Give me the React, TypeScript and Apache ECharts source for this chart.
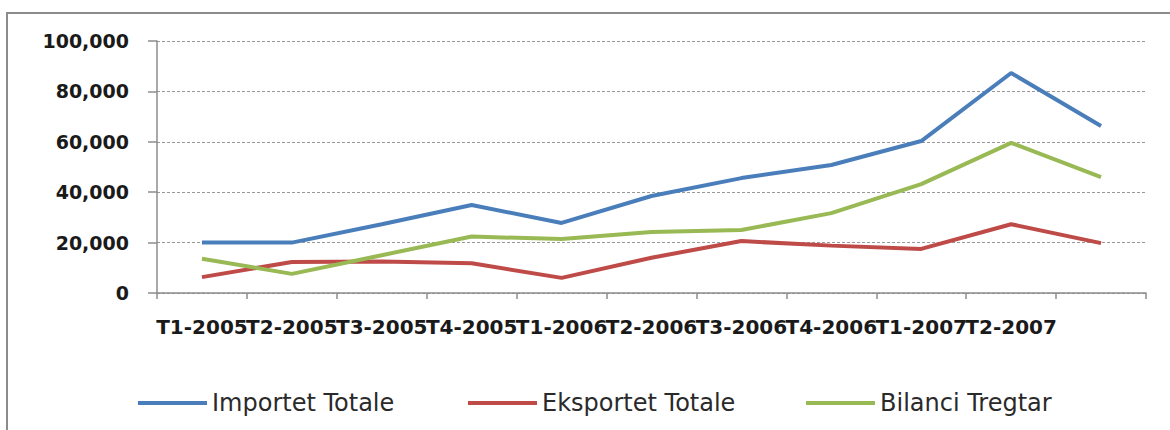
import React, { useEffect, useRef } from "react";
import * as echarts from "echarts";

const categories = [
  "T1-2005", "T2-2005", "T3-2005", "T4-2005", "T1-2006", "T2-2006",
  "T3-2006", "T4-2006", "T1-2007", "T2-2007", "",
];
const importet = [20000, 20000, 27300, 34900, 27800, 38500, 45600, 50800, 60300, 87300, 66300];
const eksportet = [6300, 12300, 12500, 11800, 6000, 14000, 20600, 18800, 17500, 27300, 19800];
const bilanci = [13600, 7600, 15000, 22400, 21400, 24200, 25000, 31700, 43200, 59600, 46000];
const seriesNames = ["Importet Totale", "Eksportet Totale", "Bilanci Tregtar"];
const colors = ["#4a7ebb", "#be4b48", "#98b954"];
const yTicks = { min: 0, max: 100000, interval: 20000 };

export default function App() {
  const ref = useRef<HTMLDivElement>(null);
  useEffect(() => {
    if (!ref.current) return;
    const chart = echarts.init(ref.current, undefined, { renderer: "svg" });
    const values = [importet, eksportet, bilanci];
    const legendLeft = [133, 463, 801];
    chart.setOption({
      animation: false,
      backgroundColor: "#ffffff",
      grid: { left: 157, right: 24, top: 41, bottom: 137, containLabel: false },
      graphic: [
        {
          type: "rect",
          shape: { x: 7, y: 13, width: 1300, height: 600 },
          style: { fill: "none", stroke: "#8c8c8c", lineWidth: 2 },
          silent: true,
        },
      ],
      legend: seriesNames.map((n, i) => ({
        data: [n],
        left: legendLeft[i],
        top: 385,
        icon: "rect",
        itemWidth: 69,
        itemHeight: 4,
        itemGap: 0,
        textStyle: {
          fontFamily: "DejaVu Sans",
          fontSize: 24,
          color: "#2a2a2a",
          lineHeight: 26,
          padding: [0, 0, 0, 0],
        },
      })),
      xAxis: {
        type: "category",
        data: categories,
        boundaryGap: true,
        axisLine: { lineStyle: { color: "#8c8c8c", width: 1.5 } },
        axisTick: { show: true, length: 6, interval: 0, lineStyle: { color: "#8c8c8c", width: 1.5 } },
        axisLabel: {
          interval: 0,
          margin: 24,
          fontFamily: "DejaVu Sans",
          fontWeight: "bold",
          fontSize: 20,
          color: "#1a1a1a",
        },
        splitLine: { show: false },
      },
      yAxis: {
        type: "value",
        min: yTicks.min,
        max: yTicks.max,
        interval: yTicks.interval,
        axisLine: { show: true, lineStyle: { color: "#8c8c8c", width: 1.5 } },
        axisTick: { show: true, length: 9, lineStyle: { color: "#8c8c8c", width: 1.5 } },
        axisLabel: {
          margin: 28,
          fontFamily: "DejaVu Sans",
          fontWeight: "bold",
          fontSize: 19,
          color: "#1a1a1a",
          formatter: (v: number) => v.toLocaleString("en-US"),
        },
        splitLine: { show: true, lineStyle: { color: "#999999", type: [3, 2], width: 1 } },
      },
      series: seriesNames.map((n, i) => ({
        name: n,
        type: "line",
        data: values[i],
        showSymbol: false,
        symbol: "none",
        color: colors[i],
        lineStyle: { color: colors[i], width: 4 },
      })),
    });
    return () => chart.dispose();
  }, []);
  return (
    <div
      ref={ref}
      style={{ position: "fixed", left: 0, top: 0, width: 1170, height: 430 }}
    />
  );
}
